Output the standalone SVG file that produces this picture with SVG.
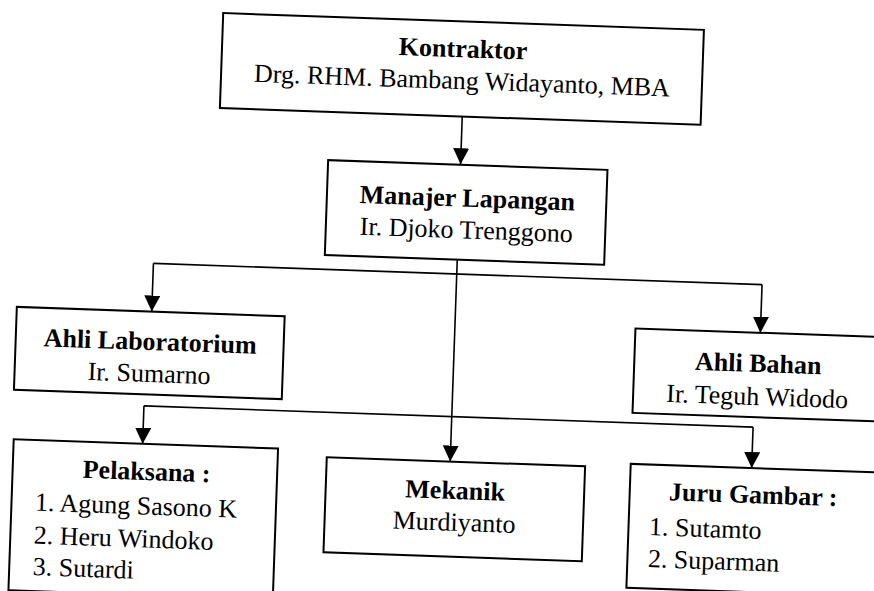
<svg xmlns="http://www.w3.org/2000/svg" width="874" height="591" viewBox="0 0 874 591">
<defs>
<marker id="arr" markerUnits="userSpaceOnUse" markerWidth="16" markerHeight="16" refX="16" refY="8" orient="auto">
<path d="M0,0 L16,8 L0,16 Z" fill="#000"/>
</marker>
<style>
.box{fill:#fff;stroke:#000;stroke-width:2}
.t{font-family:"Liberation Serif","Times New Roman",serif;font-size:26px;fill:#000}
.b{font-weight:bold}
.c{text-anchor:middle}
.ln{fill:none;stroke:#000;stroke-width:1.6}
</style>
</defs>
<rect width="874" height="591" fill="#fff"/>
<g transform="rotate(2 437 295)">
<g id="connectors">
<path class="ln" d="M456,115.8 V163.5" marker-end="url(#arr)"/>
<path class="ln" d="M456,259 V461" marker-end="url(#arr)"/>
<path class="ln" d="M152.5,273.3 H761.5"/>
<path class="ln" d="M152.5,273.3 V321.5" marker-end="url(#arr)"/>
<path class="ln" d="M761.5,273.3 V321.5" marker-end="url(#arr)"/>
<path class="ln" d="M148,416 H757.5"/>
<path class="ln" d="M148,416 V454" marker-end="url(#arr)"/>
<path class="ln" d="M757.5,416 V457" marker-end="url(#arr)"/>
</g>
<g id="kontraktor">
<rect class="box" x="213.5" y="20.7" width="481" height="95"/>
<text class="t b c" x="454.5" y="56.5">Kontraktor</text>
<text class="t c" x="454.5" y="88.3">Drg. RHM. Bambang Widayanto, MBA</text>
</g>
<g id="manajer">
<rect class="box" x="323.5" y="164" width="279.5" height="95"/>
<text class="t b c" x="464" y="205.7">Manajer Lapangan</text>
<text class="t c" x="464" y="237.4">Ir. Djoko Trenggono</text>
</g>
<g id="ahli-lab">
<rect class="box" x="17.5" y="321.5" width="268" height="83"/>
<text class="t b c" x="152" y="360">Ahli Laboratorium</text>
<text class="t c" x="152" y="392">Ir. Sumarno</text>
</g>
<g id="ahli-bahan">
<rect class="box" x="636.5" y="321.5" width="250" height="84.5"/>
<text class="t b c" x="760.5" y="360.7">Ahli Bahan</text>
<text class="t c" x="760.5" y="393.8">Ir. Teguh Widodo</text>
</g>
<g id="pelaksana">
<rect class="box" x="19" y="454" width="264.5" height="151"/>
<text class="t b c" x="153" y="490">Pelaksana :</text>
<text class="t" x="42.5" y="524.5">1. Agung Sasono K</text>
<text class="t" x="42.5" y="557.5">2. Heru Windoko</text>
<text class="t" x="42.5" y="589">3. Sutardi</text>
</g>
<g id="mekanik">
<rect class="box" x="332.5" y="461" width="258.5" height="95"/>
<text class="t b c" x="462" y="498.2">Mekanik</text>
<text class="t c" x="462" y="530">Murdiyanto</text>
</g>
<g id="juru-gambar">
<rect class="box" x="636.5" y="457" width="250" height="124"/>
<text class="t b c" x="760" y="492">Juru Gambar :</text>
<text class="t" x="657" y="527.5">1. Sutamto</text>
<text class="t" x="657" y="559.5">2. Suparman</text>
</g>
</g>
</svg>
